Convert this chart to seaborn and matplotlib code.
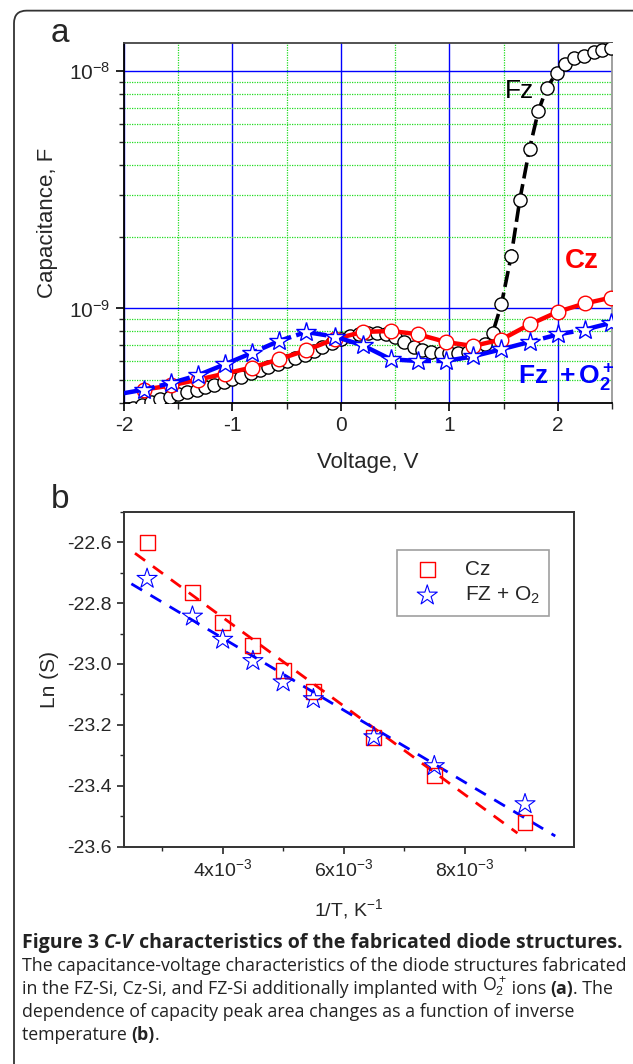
import numpy as np
import matplotlib
matplotlib.use("Agg")
import matplotlib.pyplot as plt
import seaborn as sns
from matplotlib.patches import FancyBboxPatch

# panel a: C-V curves
fz_v = [-2.00, -1.92, -1.83, -1.75, -1.67, -1.58, -1.50, -1.42, -1.33, -1.25,
        -1.17, -1.08, -1.00, -0.92, -0.83, -0.75, -0.67, -0.58, -0.50, -0.42,
        -0.33, -0.25, -0.17, -0.08, 0.00, 0.08, 0.17, 0.25, 0.33, 0.42,
        0.50, 0.58, 0.67, 0.75, 0.83, 0.92, 1.00, 1.08, 1.17, 1.25,
        1.33, 1.40, 1.48, 1.57, 1.65, 1.74, 1.82, 1.90, 1.99, 2.07,
        2.15, 2.24, 2.33, 2.41, 2.49]
fz_c = [3.70, 3.80, 3.92, 4.05, 4.15, 4.25, 4.36, 4.46, 4.55, 4.66,
        4.77, 4.90, 5.03, 5.17, 5.35, 5.52, 5.67, 5.85, 6.02, 6.20,
        6.40, 6.65, 6.90, 7.15, 7.45, 7.68, 7.82, 7.90, 7.92, 7.82,
        7.55, 7.20, 6.90, 6.70, 6.58, 6.52, 6.50, 6.52, 6.58, 6.75,
        7.10, 7.90, 10.4, 16.6, 28.7, 47.1, 67.6, 85.1, 98.1, 107.0,
        113.0, 116.0, 120.0, 123.0, 125.0]  # x 1e-10 F

cz_v = [-1.82, -1.57, -1.32, -1.07, -0.82, -0.57, -0.32, -0.05, 0.20,
        0.46, 0.71, 0.97, 1.22, 1.48, 1.74, 2.00, 2.25, 2.49]
cz_c = [4.55, 4.74, 5.01, 5.32, 5.64, 6.11, 6.67, 7.45, 7.96,
        8.04, 7.79, 7.22, 6.95, 7.40, 8.56, 9.68, 10.5, 11.1]

fzo_v = [-2.00, -1.82, -1.57, -1.32, -1.07, -0.82, -0.57, -0.32, -0.05, 0.20,
         0.46, 0.71, 0.97, 1.22, 1.48, 1.74, 2.00, 2.25, 2.49]
fzo_c = [4.40, 4.55, 4.85, 5.23, 5.82, 6.50, 7.30, 7.96, 7.60, 7.00,
         6.11, 6.01, 6.01, 6.29, 6.73, 7.23, 7.77, 8.15, 8.69]

# panel b: peak area vs inverse temperature
inv_t = [2.75e-3, 3.5e-3, 4.0e-3, 4.5e-3, 5.0e-3, 5.5e-3, 6.5e-3, 7.5e-3, 9.0e-3]
ln_s_cz = [-22.60, -22.765, -22.864, -22.94, -23.02, -23.09, -23.24, -23.365, -23.52]
ln_s_fzo = [-22.72, -22.844, -22.92, -22.99, -23.06, -23.115, -23.24, -23.335, -23.46]
fit_range_cz = [2.55e-3, 8.875e-3]
fit_range_fzo = [2.49e-3, 9.5e-3]

sns.set_style("ticks")
plt.rcParams['font.family'] = ['Liberation Sans', 'DejaVu Sans']
plt.rcParams['mathtext.fontset'] = 'custom'
plt.rcParams['mathtext.rm'] = 'Liberation Sans'
plt.rcParams['mathtext.it'] = 'Liberation Sans:italic'
plt.rcParams['mathtext.bf'] = 'Liberation Sans:bold'

fig = plt.figure(figsize=(6.33, 10.64), dpi=100)
fig.patch.set_facecolor('white')

# outer rounded frame
frame = FancyBboxPatch((14 / 633, -0.05), 1.2, 1.04, transform=fig.transFigure,
                       boxstyle="round,pad=0,rounding_size=0.02",
                       fill=False, edgecolor='#333333', linewidth=1.3,
                       mutation_aspect=633 / 1064)
fig.patches.append(frame)

# ---------- panel a ----------
ax1 = fig.add_axes([124 / 633, 1 - 403 / 1064, 488 / 633, 360 / 1064])
ax1.set_yscale('log')
ax1.set_xlim(-2, 2.5)
ax1.set_ylim(4.0e-10, 1.31e-8)

sns.lineplot(x=fz_v, y=np.array(fz_c) * 1e-10, ax=ax1, sort=False, estimator=None,
             color='black', lw=2.6, linestyle=(0, (4.5, 1.6)), marker='o',
             markersize=9.5, markerfacecolor='white', markeredgecolor='black',
             markeredgewidth=1.0, zorder=3)
sns.lineplot(x=cz_v, y=np.array(cz_c) * 1e-10, ax=ax1, sort=False, estimator=None,
             color='#ff0000', lw=3.2, marker='o', markersize=10.5,
             markerfacecolor='white', markeredgecolor='#ff0000',
             markeredgewidth=1.0, zorder=4)
sns.lineplot(x=fzo_v, y=np.array(fzo_c) * 1e-10, ax=ax1, sort=False, estimator=None,
             color='#0000ff', lw=3.2, linestyle=(0, (7, 1.2)), zorder=5)
sns.lineplot(x=fzo_v[1:], y=np.array(fzo_c[1:]) * 1e-10, ax=ax1, sort=False,
             estimator=None, lw=0, marker='*', markersize=15,
             markerfacecolor='white', markeredgecolor='#0000ff',
             markeredgewidth=1.0, zorder=6)

ax1.set_xticks([-2, -1, 0, 1, 2])
ax1.set_xticklabels(['-2', '-1', '0', '1', '2'])
ax1.set_xticks([-1.5, -0.5, 0.5, 1.5, 2.5], minor=True)
ax1.set_yticks([1e-9, 1e-8])
ax1.set_yticklabels([r'10$^{-9}$', r'10$^{-8}$'])
ax1.set_yticks([4e-10, 5e-10, 6e-10, 7e-10, 8e-10, 9e-10, 2e-9, 3e-9, 4e-9,
                5e-9, 6e-9, 7e-9, 8e-9, 9e-9], minor=True)
ax1.yaxis.set_minor_formatter(matplotlib.ticker.NullFormatter())
ax1.set_axisbelow(True)
ax1.grid(which='major', color='#0000ff', lw=1.0, ls='-')
ax1.grid(which='minor', color='#22dd22', lw=0.9, ls=(0, (1, 1)))
ax1.tick_params(which='major', direction='out', length=6, width=1.2,
                labelsize=15, color='black')
ax1.tick_params(which='minor', direction='out', length=3.5, width=1.0)
ax1.tick_params(axis='x', which='minor', length=4)
for side in ['left', 'bottom']:
    ax1.spines[side].set_color('black')
    ax1.spines[side].set_linewidth(1.3)
ax1.spines['top'].set_color('#444444')
ax1.spines['top'].set_linewidth(1.3)
ax1.spines['right'].set_color('#999999')
ax1.spines['right'].set_linewidth(1.3)
ax1.set_xlabel('Voltage, V', fontsize=16, labelpad=12)
ax1.set_ylabel('Capacitance, F', fontsize=16, labelpad=8)

ax1.text(1.65, 8.2e-9, 'Fz', fontsize=19, color='black', ha='center', va='center')
ax1.text(2.22, 1.58e-9, 'Cz', fontsize=20, color='#ff0000', fontweight='bold',
         ha='center', va='center')
ax1.text(2.08, 5.15e-10, r'$\mathbf{Fz\ +O_2^+}$', fontsize=19, color='#0000ff',
         ha='center', va='center')
fig.text(60 / 633, 1 - 34 / 1064, 'a', fontsize=24, ha='center', va='center')

# ---------- panel b ----------
ax2 = fig.add_axes([123.5 / 633, 1 - 846.7 / 1064, 450.5 / 633, 335 / 1064])
sns.scatterplot(x=inv_t, y=ln_s_cz, ax=ax2, marker='s', s=115,
                facecolor='none', edgecolor='#ff0000', linewidth=1.0,
                label='Cz', zorder=4)
sns.scatterplot(x=inv_t, y=ln_s_fzo, ax=ax2, marker='*', s=230,
                facecolor='none', edgecolor='#0000ff', linewidth=0.8,
                label=r'FZ + O$_2$', zorder=4)

for ys, rng, col in [(ln_s_cz, fit_range_cz, '#ff0000'),
                     (ln_s_fzo, fit_range_fzo, '#0000ff')]:
    k, b = np.polyfit(inv_t, ys, 1)
    xs = np.array(rng)
    ax2.plot(xs, k * xs + b, color=col, lw=2.0, linestyle=(0, (4.5, 3.5)),
             zorder=3)

ax2.set_xlim(2.36e-3, 9.81e-3)
ax2.set_ylim(-23.6, -22.5)
ax2.set_xticks([4e-3, 6e-3, 8e-3])
ax2.set_xticklabels([r'4x10$^{-3}$', r'6x10$^{-3}$', r'8x10$^{-3}$'])
ax2.set_xticks([3e-3, 5e-3, 7e-3, 9e-3], minor=True)
ax2.set_yticks([-22.6, -22.8, -23.0, -23.2, -23.4, -23.6])
ax2.set_yticklabels(['-22.6', '-22.8', '-23.0', '-23.2', '-23.4', '-23.6'])
ax2.set_yticks([-22.5, -22.7, -22.9, -23.1, -23.3, -23.5], minor=True)
ax2.tick_params(which='major', direction='out', length=5, width=1.2, labelsize=14)
ax2.tick_params(which='minor', direction='out', length=3, width=1.0)
for side in ax2.spines:
    ax2.spines[side].set_color('#333333')
    ax2.spines[side].set_linewidth(1.4)
ax2.set_xlabel(r'1/T, K$^{-1}$', fontsize=14, labelpad=12)
ax2.set_ylabel('Ln (S)', fontsize=15, labelpad=6)
leg = ax2.legend(loc='upper right', bbox_to_anchor=(0.945, 0.885), fontsize=15,
                 frameon=True, fancybox=False, edgecolor='#888888',
                 borderpad=0.45, handletextpad=0.8, labelspacing=0.3,
                 borderaxespad=0)
leg.get_frame().set_linewidth(1.2)
fig.text(60 / 633, 1 - 500 / 1064, 'b', fontsize=24, ha='center', va='center')

# ---------- caption ----------
cap_font = ['Open Sans', 'DejaVu Sans']
x0 = 22 / 633


def line(pieces, y, size):
    prev = None
    for txt, weight, style in pieces:
        if prev is None:
            prev = fig.text(x0, 1 - y / 1064, txt, fontsize=size, fontweight=weight,
                            fontstyle=style, family=cap_font, va='baseline',
                            color='#222222')
        else:
            prev = plt.annotate(txt, xy=(1, 0), xycoords=prev, va='bottom',
                                ha='left', fontsize=size, fontweight=weight,
                                fontstyle=style, family=cap_font, color='#222222',
                                annotation_clip=False)


line([('Figure 3 ', 'bold', 'normal'), ('C-V', 'bold', 'italic'),
      (' characteristics of the fabricated diode structures.', 'bold', 'normal')],
     948, 14.0)
line([('The capacitance-voltage characteristics of the diode structures fabricated',
       'normal', 'normal')], 971, 12.8)
line([('in the FZ-Si, Cz-Si, and FZ-Si additionally implanted with ', 'normal', 'normal'),
      (r'O$_2^+$', 'normal', 'normal'), (' ions ', 'normal', 'normal'),
      ('(a)', 'bold', 'normal'), ('. The', 'normal', 'normal')], 994, 12.8)
line([('dependence of capacity peak area changes as a function of inverse',
       'normal', 'normal')], 1017, 12.8)
line([('temperature ', 'normal', 'normal'), ('(b)', 'bold', 'normal'),
      ('.', 'normal', 'normal')], 1040, 12.8)

fig.savefig('out.png', dpi=100, facecolor='white')
